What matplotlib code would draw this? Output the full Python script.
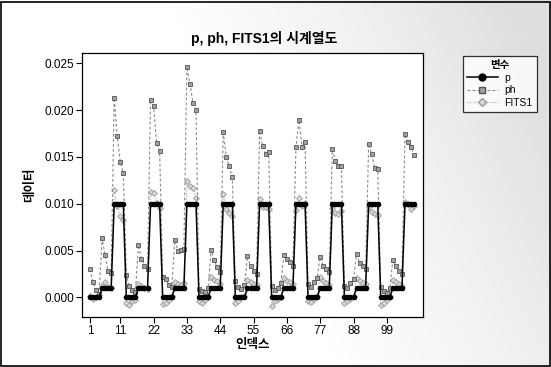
import matplotlib
matplotlib.use("Agg")
import matplotlib.pyplot as plt
import numpy as np
from matplotlib.lines import Line2D

plt.rcParams['font.family'] = ['Liberation Sans', 'Noto Sans CJK KR', 'DejaVu Sans']

title = "p, ph, FITS1의 시계열도"
x_label = "인덱스"
y_label = "데이터"
legend_title = "변수"
series_names = ["p", "ph", "FITS1"]
x_ticks = [1, 11, 22, 33, 44, 55, 66, 77, 88, 99]
y_ticks = [0.000, 0.005, 0.010, 0.015, 0.020, 0.025]

p = [
    0.000, 0.000, 0.000, 0.000, 0.001, 0.001, 0.001, 0.001, 0.010, 0.010, 0.010, 0.010,
    0.000, 0.000, 0.000, 0.000, 0.001, 0.001, 0.001, 0.001, 0.010, 0.010, 0.010, 0.010,
    0.000, 0.000, 0.000, 0.000, 0.001, 0.001, 0.001, 0.001, 0.010, 0.010, 0.010, 0.010,
    0.000, 0.000, 0.000, 0.000, 0.001, 0.001, 0.001, 0.001, 0.010, 0.010, 0.010, 0.010,
    0.000, 0.000, 0.000, 0.000, 0.001, 0.001, 0.001, 0.001, 0.010, 0.010, 0.010, 0.010,
    0.000, 0.000, 0.000, 0.000, 0.001, 0.001, 0.001, 0.001, 0.010, 0.010, 0.010, 0.010,
    0.000, 0.000, 0.000, 0.000, 0.001, 0.001, 0.001, 0.001, 0.010, 0.010, 0.010, 0.010,
    0.000, 0.000, 0.000, 0.000, 0.001, 0.001, 0.001, 0.001, 0.010, 0.010, 0.010, 0.010,
    0.000, 0.000, 0.000, 0.000, 0.001, 0.001, 0.001, 0.001, 0.010, 0.010, 0.010, 0.010,
]

ph = [
    0.0030, 0.0016, 0.0008, 0.0004, 0.0063, 0.0045, 0.0028, 0.0026, 0.0213, 0.0172, 0.0145, 0.0133,
    0.0024, 0.0012, 0.0008, 0.0006, 0.0056, 0.0041, 0.0034, 0.0030, 0.0211, 0.0204, 0.0165, 0.0156,
    0.0022, 0.0020, 0.0013, 0.0011, 0.0061, 0.0050, 0.0051, 0.0052, 0.0246, 0.0228, 0.0208, 0.0200,
    0.0009, 0.0007, 0.0006, 0.0010, 0.0051, 0.0040, 0.0032, 0.0027, 0.0176, 0.0150, 0.0140, 0.0128,
    0.0017, 0.0011, 0.0009, 0.0013, 0.0044, 0.0033, 0.0028, 0.0025, 0.0178, 0.0162, 0.0153, 0.0155,
    0.0012, 0.0008, 0.0010, 0.0015, 0.0045, 0.0041, 0.0038, 0.0033, 0.0160, 0.0189, 0.0161, 0.0166,
    0.0014, 0.0011, 0.0016, 0.0021, 0.0043, 0.0034, 0.0030, 0.0027, 0.0158, 0.0146, 0.0140, 0.0140,
    0.0012, 0.0010, 0.0015, 0.0020, 0.0046, 0.0037, 0.0033, 0.0030, 0.0164, 0.0153, 0.0138, 0.0137,
    0.0011, 0.0007, 0.0005, 0.0010, 0.0040, 0.0033, 0.0028, 0.0025, 0.0174, 0.0166, 0.0160, 0.0152,
]

fits1 = [
    0.0001, -0.0002, 0.0000, 0.0003, 0.0012, 0.0016, 0.0011, 0.0010, 0.0115, 0.0098, 0.0087, 0.0083,
    -0.0006, -0.0008, -0.0004, -0.0003, 0.0014, 0.0012, 0.0010, 0.0009, 0.0113, 0.0111, 0.0101, 0.0095,
    -0.0007, -0.0006, -0.0003, 0.0002, 0.0016, 0.0014, 0.0013, 0.0015, 0.0124, 0.0119, 0.0117, 0.0106,
    -0.0004, -0.0006, -0.0003, 0.0002, 0.0022, 0.0019, 0.0017, 0.0014, 0.0110, 0.0094, 0.0090, 0.0087,
    -0.0006, -0.0004, 0.0000, 0.0002, 0.0019, 0.0016, 0.0014, 0.0013, 0.0105, 0.0097, 0.0096, 0.0094,
    -0.0009, -0.0004, -0.0002, 0.0000, 0.0021, 0.0018, 0.0016, 0.0014, 0.0093, 0.0106, 0.0098, 0.0101,
    -0.0004, -0.0005, -0.0002, 0.0001, 0.0022, 0.0018, 0.0015, 0.0013, 0.0095, 0.0090, 0.0089, 0.0092,
    -0.0006, -0.0004, -0.0002, 0.0001, 0.0021, 0.0018, 0.0015, 0.0014, 0.0096, 0.0091, 0.0089, 0.0088,
    -0.0008, -0.0006, -0.0003, 0.0000, 0.0019, 0.0016, 0.0014, 0.0012, 0.0102, 0.0100, 0.0094, 0.0098,
]

idx = np.arange(1, len(p) + 1)

fig = plt.figure(figsize=(5.51, 3.67), dpi=100)
fig.patch.set_facecolor('white')

# faint gray shading toward the upper right of the figure background
bg = fig.add_axes([0, 0, 1, 1], zorder=-10)
gx = np.linspace(0, 1, 300)
gy = np.linspace(0, 1, 200)
GX, GY = np.meshgrid(gx, gy)
shade = np.clip((GX - 0.45) * 1.6 + (GY - 0.5) * 0.5, 0, 1) * 0.22
bg.imshow(shade, extent=[0, 1, 0, 1], aspect='auto', cmap='Greys',
          vmin=0, vmax=1, origin='lower')
bg.set_xlim(0, 1)
bg.set_ylim(0, 1)
bg.axis('off')
bg.add_patch(plt.Rectangle((0.002, 0.004), 0.996, 0.99, fill=False,
                           edgecolor='black', linewidth=1.2, transform=bg.transAxes))

ax = fig.add_axes([0.149, 0.136, 0.619, 0.720])
ax.set_facecolor('white')

ax.plot(idx, fits1, linestyle=(0, (1, 1.5)), color='#a8a8a8', linewidth=0.8,
        marker='D', markersize=3.0, markerfacecolor='#d8d8d8', markeredgecolor='#9a9a9a',
        markeredgewidth=0.6, label=series_names[2], zorder=2)
ax.plot(idx, ph, linestyle=(0, (2.5, 2)), color='#8a8a8a', linewidth=0.8,
        marker='s', markersize=3.0, markerfacecolor='#a0a0a0', markeredgecolor='#555555',
        markeredgewidth=0.6, label=series_names[1], zorder=3)
ax.plot(idx, p, linestyle='-', color='black', linewidth=1.1,
        marker='o', markersize=3.0, markerfacecolor='black', markeredgecolor='black',
        label=series_names[0], zorder=4)

ax.set_xlim(-1.6, 111)
ax.set_ylim(-0.0021, 0.0261)
ax.set_xticks(x_ticks)
ax.set_xticklabels([str(t) for t in x_ticks], fontsize=8.5)
ax.set_yticks(y_ticks)
ax.set_yticklabels([f"{t:.3f}" for t in y_ticks], fontsize=8.5)
ax.tick_params(direction='out', length=4, width=0.8, pad=2)
for s in ax.spines.values():
    s.set_linewidth(0.9)

fig.text(0.48, 0.895, title, ha='center', va='center', fontsize=10, fontweight='bold')
ax.set_xlabel(x_label, fontsize=9, fontweight='bold', labelpad=1)
ax.set_ylabel(y_label, fontsize=9, fontweight='bold', labelpad=6)

handles = [
    Line2D([], [], color='black', linestyle='-', linewidth=1.1, marker='o', markersize=5),
    Line2D([], [], color='#8a8a8a', linestyle=(0, (2.5, 2)), linewidth=0.8, marker='s',
           markersize=4, markerfacecolor='#a0a0a0', markeredgecolor='#555555'),
    Line2D([], [], color='#a8a8a8', linestyle=(0, (1, 1.5)), linewidth=0.8, marker='D',
           markersize=4, markerfacecolor='#d8d8d8', markeredgecolor='#9a9a9a'),
]
leg = fig.legend(handles, series_names, title=legend_title, loc='upper left',
                 bbox_to_anchor=(0.830, 0.862), fontsize=7.5, title_fontsize=7.5,
                 frameon=True, fancybox=False, edgecolor='black', handlelength=3.0,
                 borderpad=0.4, labelspacing=0.25, handletextpad=0.6)
leg.get_frame().set_linewidth(0.9)
leg.get_frame().set_facecolor('white')
leg.get_title().set_fontweight('bold')

fig.savefig('out.png', dpi=100)
